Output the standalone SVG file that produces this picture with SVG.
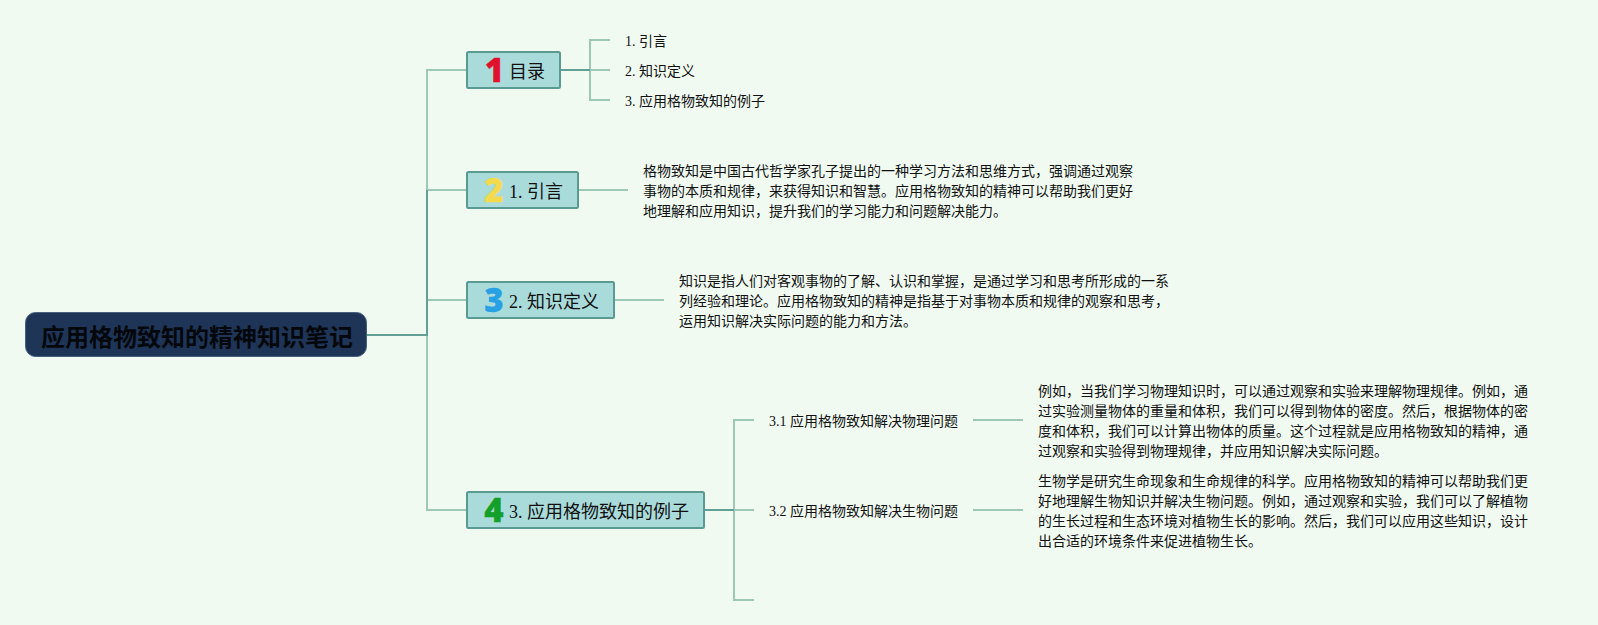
<svg xmlns="http://www.w3.org/2000/svg" width="1598" height="625" viewBox="0 0 1598 625">
<style>
text{font-family:"Liberation Serif","Noto Sans CJK SC",serif;fill:#111}
.t{font-size:14px}
.n{font-size:18px}
.c{fill:none;stroke:#9cc8b5;stroke-width:2}
.k{fill:none;stroke:#62a096;stroke-width:2}
.box{fill:#aadbdb;stroke:#5a9a90;stroke-width:2}
.d{font-family:"Open Sans",sans-serif;font-weight:800;font-size:33px;text-anchor:middle;stroke-width:.3;stroke-linejoin:round}
</style>
<rect width="1598" height="625" fill="#f0faf1"/>
<g id="connectors">
<path class="c" d="M467 70H427V190"/>
<path class="c" d="M427 190H467"/>
<path class="c" d="M427 300H467"/>
<path class="c" d="M427 335V510H467"/>
<path class="k" d="M367 335H427V190"/>
<path class="c" d="M610 40H590V100H610"/>
<path class="c" d="M590 70H610"/>
<path class="k" d="M560 70H590"/>
<path class="c" d="M578 190H628"/>
<path class="c" d="M614 300H664"/>
<path class="c" d="M754 420H734V600H754"/>
<path class="c" d="M734 510H754"/>
<path class="k" d="M704 510H734"/>
<path class="c" d="M973 420H1023"/>
<path class="c" d="M973 510H1023"/>
</g>
<g id="root">
<rect x="25.500" y="312.500" width="341" height="44" rx="10" fill="#1f3557" stroke="#47617f"/>
<text x="41" y="346" style="font-family:'Noto Sans CJK SC',sans-serif;font-size:24px;font-weight:700;fill:#04080c">应用格物致知的精神知识笔记</text>
</g>
<g id="node-1">
<rect class="box" x="467" y="52" width="93" height="36" rx="1.500"/>
<text class="d" x="494.500" y="81.500" style="fill:#e0112c;stroke:#e0112c">1</text>
<text class="n" x="509" y="77.500">目录</text>
</g>
<g id="node-2">
<rect class="box" x="467" y="172" width="111" height="36" rx="1.500"/>
<text class="d" x="494" y="201.500" style="fill:#f3d94c;stroke:#f3d94c">2</text>
<text class="n" x="509" y="197.500">1. 引言</text>
</g>
<g id="node-3">
<rect class="box" x="467" y="282" width="147" height="36" rx="1.500"/>
<text class="d" x="494" y="311.500" style="fill:#27a0e4;stroke:#27a0e4">3</text>
<text class="n" x="509" y="307.500">2. 知识定义</text>
</g>
<g id="node-4">
<rect class="box" x="467" y="492" width="237" height="36" rx="1.500"/>
<text class="d" x="494" y="521.500" style="fill:#12a02a;stroke:#12a02a">4</text>
<text class="n" x="509" y="517.500">3. 应用格物致知的例子</text>
</g>
<g id="toc-1"><text class="t" x="625" y="46">1. 引言</text></g>
<g id="toc-2"><text class="t" x="625" y="76">2. 知识定义</text></g>
<g id="toc-3"><text class="t" x="625" y="106">3. 应用格物致知的例子</text></g>
<g id="para-intro">
<text class="t" x="643" y="176">格物致知是中国古代哲学家孔子提出的一种学习方法和思维方式，强调通过观察</text>
<text class="t" x="643" y="196">事物的本质和规律，来获得知识和智慧。应用格物致知的精神可以帮助我们更好</text>
<text class="t" x="643" y="216">地理解和应用知识，提升我们的学习能力和问题解决能力。</text>
</g>
<g id="para-def">
<text class="t" x="679" y="286">知识是指人们对客观事物的了解、认识和掌握，是通过学习和思考所形成的一系</text>
<text class="t" x="679" y="306">列经验和理论。应用格物致知的精神是指基于对事物本质和规律的观察和思考，</text>
<text class="t" x="679" y="326">运用知识解决实际问题的能力和方法。</text>
</g>
<g id="sub-1"><text class="t" x="769" y="426">3.1 应用格物致知解决物理问题</text></g>
<g id="sub-2"><text class="t" x="769" y="516">3.2 应用格物致知解决生物问题</text></g>
<g id="para-physics">
<text class="t" x="1038" y="396">例如，当我们学习物理知识时，可以通过观察和实验来理解物理规律。例如，通</text>
<text class="t" x="1038" y="416">过实验测量物体的重量和体积，我们可以得到物体的密度。然后，根据物体的密</text>
<text class="t" x="1038" y="436">度和体积，我们可以计算出物体的质量。这个过程就是应用格物致知的精神，通</text>
<text class="t" x="1038" y="456">过观察和实验得到物理规律，并应用知识解决实际问题。</text>
</g>
<g id="para-biology">
<text class="t" x="1038" y="486">生物学是研究生命现象和生命规律的科学。应用格物致知的精神可以帮助我们更</text>
<text class="t" x="1038" y="506">好地理解生物知识并解决生物问题。例如，通过观察和实验，我们可以了解植物</text>
<text class="t" x="1038" y="526">的生长过程和生态环境对植物生长的影响。然后，我们可以应用这些知识，设计</text>
<text class="t" x="1038" y="546">出合适的环境条件来促进植物生长。</text>
</g>
</svg>
